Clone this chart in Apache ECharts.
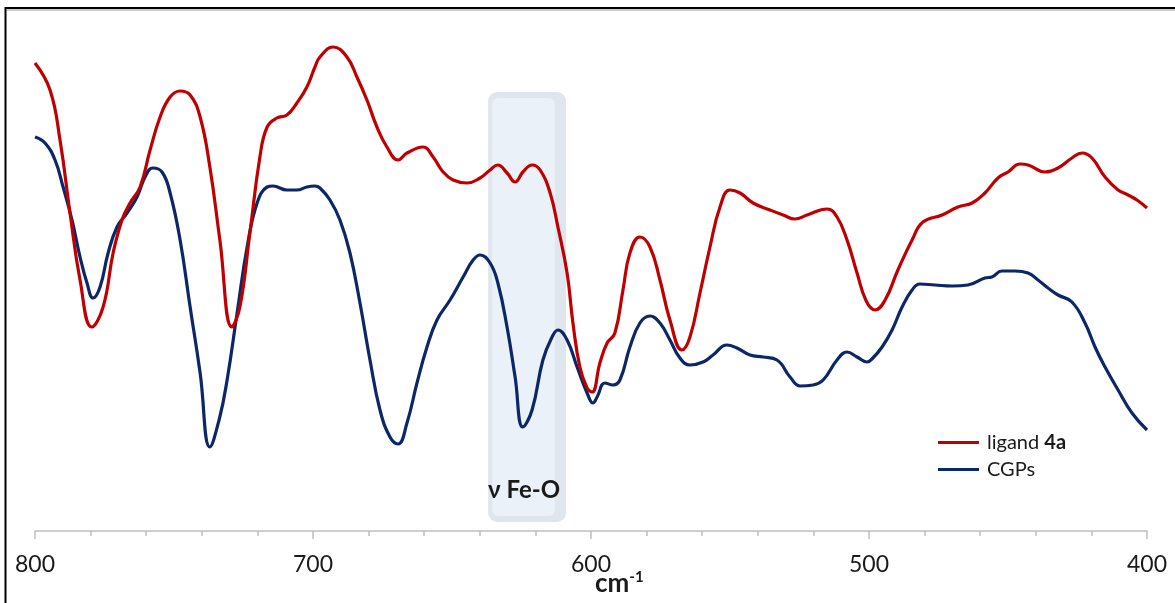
<!DOCTYPE html>
<html>
<head>
<meta charset="utf-8">
<script src="https://cdn.jsdelivr.net/npm/echarts@6/dist/echarts.min.js"></script>
<style>
  html, body { margin: 0; padding: 0; background: #fff; }
  #chart { width: 1175px; height: 603px; }
</style>
</head>
<body>
<div id="chart"></div>
<script>
// IR spectra, wavenumber (cm-1) against relative transmittance (arbitrary units)
const ligandWn = [800, 794.6, 791.0, 787.4, 783.8, 779.6, 775.5, 771.9, 768.7, 765.8, 762.2, 758.6, 755.0, 751.4, 747.8, 744.2, 740.6, 737.1, 733.5, 729.2, 726.3, 722.7, 719.1, 716.5, 713.0, 709.4, 705.8, 702.2, 699.3, 697.5, 692.8, 687.8, 684.2, 680.6, 677.0, 673.4, 669.4, 666.2, 660.4, 656.8, 653.2, 649.6, 644.6, 639.9, 636.3, 633.5, 630.2, 627.3, 624.5, 621.2, 618.3, 614.7, 611.9, 608.6, 606.5, 604.0, 601.4, 599.6, 596.8, 594.2, 591.4, 588.5, 586.0, 582.4, 578.8, 575.2, 571.6, 567.3, 564.4, 560.8, 557.2, 553.6, 550.0, 546.4, 541.7, 535.6, 530.9, 526.6, 522.3, 515.1, 511.5, 507.9, 504.3, 501.0, 497.8, 494.2, 489.6, 484.5, 480.6, 473.7, 468.0, 462.9, 458.3, 453.6, 450.0, 445.7, 442.8, 436.7, 432.0, 427.0, 423.4, 419.8, 415.1, 410.4, 406.8, 403.6, 400];
const ligandT = [93.6, 88.2, 78.2, 63.6, 50.2, 40.8, 44.8, 55.6, 62.2, 65.6, 68.8, 76.2, 82.8, 86.8, 88.0, 87.2, 82.8, 72.8, 58.2, 40.8, 44.8, 59.6, 74.8, 80.8, 82.6, 83.2, 85.6, 88.8, 92.8, 94.8, 96.8, 94.8, 90.8, 86.2, 80.8, 76.8, 74.2, 75.6, 76.8, 74.8, 71.8, 70.2, 69.6, 70.6, 72.2, 73.2, 71.6, 69.8, 71.8, 73.2, 72.2, 67.6, 60.8, 51.6, 41.6, 32.8, 28.6, 27.8, 33.6, 37.6, 39.6, 48.2, 55.6, 58.8, 56.8, 50.2, 42.2, 36.2, 38.8, 47.6, 56.8, 64.8, 68.2, 67.6, 65.6, 64.2, 63.2, 62.4, 63.2, 64.4, 62.8, 58.2, 51.6, 46.0, 44.2, 46.2, 52.2, 58.2, 61.8, 63.2, 64.8, 65.6, 67.6, 70.6, 71.8, 73.4, 73.2, 71.8, 72.6, 74.6, 75.6, 74.6, 70.8, 68.2, 67.2, 66.2, 64.6];

const cgpWn = [800, 796.4, 792.8, 789.9, 786.7, 783.8, 781.3, 779.1, 776.6, 773.7, 770.5, 766.9, 763.3, 760.4, 757.6, 754.3, 751.4, 747.8, 744.2, 740.6, 737.1, 733.7, 730.9, 727.3, 723.7, 720.1, 716.5, 714.4, 709.4, 705.8, 702.2, 699.3, 697.5, 693.9, 690.3, 686.7, 683.1, 679.5, 675.9, 672.3, 669.4, 666.2, 662.6, 659.0, 655.4, 650.7, 646.0, 642.4, 639.9, 636.3, 633.5, 630.2, 627.3, 624.5, 621.2, 617.3, 614.0, 611.9, 608.6, 605.0, 601.4, 599.3, 597.8, 595.0, 592.1, 589.6, 586.0, 582.4, 578.8, 575.2, 571.6, 568.0, 564.4, 559.7, 556.1, 551.1, 547.5, 542.8, 538.1, 533.1, 528.4, 524.8, 520.1, 516.5, 511.5, 507.9, 504.3, 500.7, 498.6, 495.3, 491.7, 488.1, 484.5, 481.7, 476.3, 470.1, 464.4, 458.3, 455.8, 452.2, 447.5, 442.8, 439.2, 435.6, 432.0, 427.0, 422.3, 418.7, 415.1, 410.4, 405.4, 400];
const cgpT = [78.8, 77.6, 74.2, 68.8, 62.2, 54.8, 49.6, 46.6, 48.8, 55.6, 60.8, 63.6, 66.8, 70.8, 72.6, 71.8, 67.6, 58.2, 44.8, 31.6, 16.8, 22.4, 30.2, 43.6, 56.8, 65.6, 68.8, 69.0, 68.2, 68.2, 68.8, 69.0, 68.6, 66.2, 62.2, 55.6, 45.6, 34.2, 24.2, 18.8, 17.4, 21.6, 29.6, 36.8, 42.2, 46.2, 50.8, 54.2, 55.2, 53.6, 49.6, 40.8, 30.8, 20.8, 24.2, 34.2, 38.8, 40.2, 38.2, 32.8, 27.6, 25.6, 26.8, 29.6, 29.2, 30.2, 36.8, 41.6, 43.0, 41.6, 38.2, 34.6, 33.2, 33.8, 35.2, 37.2, 36.6, 35.2, 34.8, 34.2, 30.8, 29.0, 29.2, 30.2, 34.2, 35.8, 34.8, 33.8, 34.6, 36.8, 40.2, 44.8, 48.2, 49.4, 49.2, 49.0, 49.2, 50.6, 50.8, 52.0, 52.0, 51.6, 50.2, 48.6, 47.2, 45.8, 41.6, 36.8, 32.8, 28.2, 23.6, 20.2];

// Fe–O stretching region highlighted on the spectrum
const feoBand = { from: 637, to: 609, low: 1.8, high: 87.8, label: 'ν Fe-O' };
const tickLabels = [400, 500, 600, 700, 800];

const FONT = 'Lato, "Open Sans", "DejaVu Sans", sans-serif';
const RED = '#c00000';
const BLUE = '#0b2767';

const pairs = (xs, ys) => xs.map((x, i) => [x, ys[i]]);

const chart = echarts.init(document.getElementById('chart'), null, { renderer: 'canvas' });

chart.setOption({
  animation: false,
  backgroundColor: '#ffffff',
  grid: { left: 35, right: 28, top: 31, bottom: 72 },
  xAxis: {
    type: 'value',
    inverse: true,
    min: 400,
    max: 800,
    interval: 100,
    axisLine: { show: true, lineStyle: { color: '#bfbfbf', width: 1.5 } },
    axisTick: { show: true, length: 8, lineStyle: { color: '#bfbfbf', width: 1.5 } },
    minorTick: { show: true, splitNumber: 5, length: 5, lineStyle: { color: '#bfbfbf', width: 1.5 } },
    splitLine: { show: false },
    minorSplitLine: { show: false },
    axisLabel: {
      margin: 22,
      fontFamily: FONT,
      fontSize: 23,
      color: '#1a1a1a',
      showMinLabel: true,
      showMaxLabel: true,
      formatter: v => (tickLabels.indexOf(v) >= 0 ? String(v) : '')
    }
  },
  yAxis: {
    type: 'value',
    min: 0,
    max: 100,
    show: false,
    splitLine: { show: false }
  },
  legend: {
    orient: 'vertical',
    left: 938,
    top: 432,
    padding: 0,
    itemWidth: 41,
    itemHeight: 3,
    itemGap: 6,
    icon: 'rect',
    data: ['ligand 4a', 'CGPs'],
    textStyle: {
      fontFamily: FONT,
      fontSize: 20,
      lineHeight: 21,
      color: '#1a1a1a',
      padding: [0, 0, 0, 3],
      rich: {
        b: { fontFamily: FONT, fontSize: 20, fontWeight: 'bold', color: '#1a1a1a' }
      }
    },
    formatter: name => (name === 'ligand 4a' ? 'ligand {b|4a}' : name)
  },
  series: [
    {
      name: 'ligand 4a',
      type: 'line',
      data: pairs(ligandWn, ligandT),
      showSymbol: false,
      smooth: 0.45,
      lineStyle: { color: RED, width: 3.2 },
      itemStyle: { color: RED },
      z: 4
    },
    {
      name: 'CGPs',
      type: 'line',
      data: pairs(cgpWn, cgpT),
      showSymbol: false,
      smooth: 0.45,
      lineStyle: { color: BLUE, width: 3.2 },
      itemStyle: { color: BLUE },
      z: 3
    }
  ]
});

// Highlight box, its label, the axis title and the outer frame
const tl = chart.convertToPixel({ gridIndex: 0 }, [feoBand.from, feoBand.high]);
const br = chart.convertToPixel({ gridIndex: 0 }, [feoBand.to, feoBand.low]);
const bx = tl[0], by = tl[1], bw = br[0] - tl[0], bh = br[1] - tl[1];

chart.setOption({
  graphic: [
    {
      type: 'rect', z: 0, silent: true,
      shape: { x: bx, y: by, width: bw, height: bh, r: 9 },
      style: { fill: '#dfe6ee' }
    },
    {
      type: 'rect', z: 0, silent: true,
      shape: { x: bx + 4, y: by + 6, width: bw - 15, height: bh - 12, r: 6 },
      style: { fill: '#eaf1f9' }
    },
    {
      type: 'text', z: 5, silent: true,
      style: {
        x: bx + bw / 2 - 3, y: 490,
        text: feoBand.label,
        fontFamily: FONT, fontSize: 24, fontWeight: 'bold',
        fill: '#1a1a1a', align: 'center', verticalAlign: 'middle'
      }
    },
    {
      type: 'text', z: 5, silent: true,
      style: {
        x: 595, y: 597,
        text: '{m|cm}{s|-1}',
        verticalAlign: 'bottom',
        rich: {
          m: { fontFamily: FONT, fontSize: 26, fontWeight: 'bold', fill: '#1a1a1a', verticalAlign: 'bottom' },
          s: { fontFamily: FONT, fontSize: 15, fontWeight: 'bold', fill: '#1a1a1a', verticalAlign: 'top', padding: [0, 0, 12, 0] }
        }
      }
    },
    {
      type: 'rect', z: 1, silent: true,
      shape: { x: 5.5, y: 8, width: 1200, height: 620 },
      style: { fill: 'none', stroke: '#000', lineWidth: 2 }
    },
    {
      type: 'line', z: 1, silent: true,
      shape: { x1: 7, y1: 10, x2: 1175, y2: 10 },
      style: { stroke: '#9a9a9a', lineWidth: 1 }
    }
  ]
});
</script>
</body>
</html>
